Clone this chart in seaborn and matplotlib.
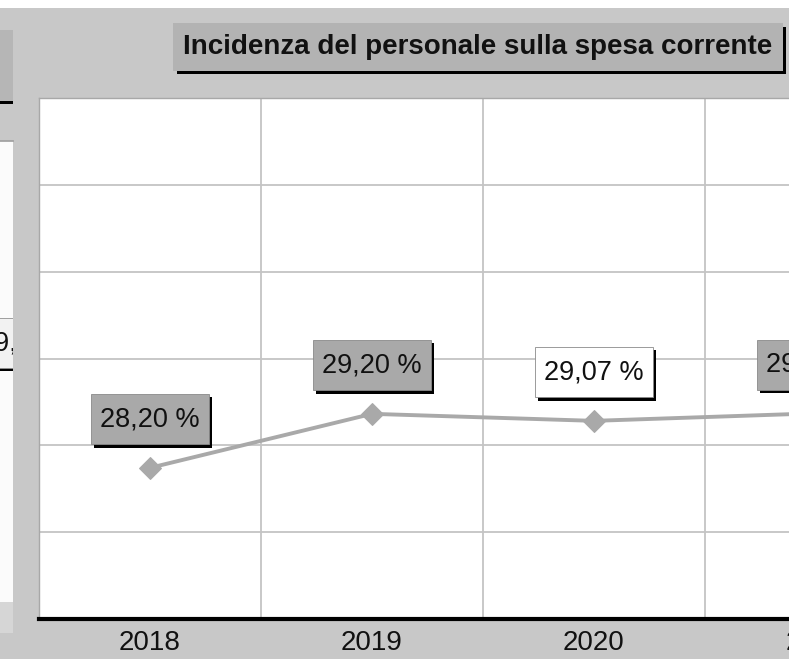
import matplotlib
matplotlib.use("Agg")
import matplotlib.pyplot as plt
import matplotlib.patheffects as pe
from matplotlib.patches import Rectangle
from matplotlib.path import Path
import numpy as np
import pandas as pd
import seaborn as sns

# ---- data -------------------------------------------------------------
years = ["2018", "2019", "2020", "2021"]
incidenza = [28.20, 29.20, 29.07, 29.21]
label_faces = ["#a9a9a9", "#a9a9a9", "#ffffff", "#a9a9a9"]
title = "Incidenza del personale sulla spesa corrente"

# ---- figure setup -----------------------------------------------------
W, H = 789, 659
BG = "#c8c8c8"
LINE_GREY = "#a9a9a9"
GRID_GREY = "#c4c4c4"

sns.set_theme(style="white")
plt.rcParams["font.family"] = ["Liberation Sans", "DejaVu Sans"]

fig = plt.figure(figsize=(W / 100, H / 100), dpi=100, facecolor=BG)


def frac(x, y, w, h):
    """Pixel box measured from the top-left corner -> figure fractions."""
    return [x / W, 1 - (y + h) / H, w / W, h / H]


def rect(x, y, w, h, **kw):
    l, b, ww, hh = frac(x, y, w, h)
    fig.add_artist(Rectangle((l, b), ww, hh, transform=fig.transFigure,
                             lw=0, **kw))


def box_style(padx, pady):
    """Square label box with separate horizontal / vertical padding."""
    def _box(x0, y0, width, height, mutation_size):
        px, py = padx * mutation_size, pady * mutation_size
        x0, y0 = x0 - px, y0 - py
        x1, y1 = x0 + width + 2 * px, y0 + height + 2 * py
        return Path([(x0, y0), (x1, y0), (x1, y1), (x0, y1), (x0, y0)],
                     closed=True)
    return _box


label_box = box_style(0.33, 0.45)
title_box = box_style(0.36, 0.38)

shadow = [pe.SimplePatchShadow(offset=(2.3, -2.3), shadow_rgbFace="black",
                               alpha=1.0), pe.Normal()]

# white band along the top edge
rect(0, 0, W, 8, fc="white")

# neighbouring panel on the left edge
rect(0, 30, 13, 71, fc="#b6b6b6")
rect(0, 101, 13, 3, fc="black")
rect(0, 602, 13, 31, fc="#d6d6d6")
side = fig.add_axes(frac(0, 141, 13, 461))
side.set_facecolor("#fbfbfb")
side.set_xlim(0, 13)
side.set_ylim(602, 141)
side.set_xticks([])
side.set_yticks([])
for s in side.spines.values():
    s.set_visible(False)
side.spines["top"].set_visible(True)
side.spines["top"].set_color("#a0a0a0")
side_lbl = side.text(-20, 343, "29,", ha="left", va="center", fontsize=19.5,
                     color="#111111", clip_on=True,
                     bbox=dict(boxstyle=label_box, fc="#f2f2f2",
                               ec="#909090", lw=0.6))
side_lbl.get_bbox_patch().set_path_effects(shadow)

# ---- main chart -------------------------------------------------------
ax = fig.add_axes(frac(39, 98, 888, 521))
ax.set_facecolor("white")

df = pd.DataFrame({"anno": years, "valore": incidenza})
sns.lineplot(data=df, x="anno", y="valore", ax=ax, sort=False,
             color=LINE_GREY, lw=2.8, marker="D", markersize=11.5,
             markeredgecolor=LINE_GREY, zorder=3)

ymin, ymax = 25.4, 35.05
ax.set_xlim(-0.5, 3.5)
ax.set_ylim(ymin, ymax)
ax.set_yticks(np.linspace(ymin, ymax, 7))
ax.set_yticklabels([])
ax.set_xticks(range(len(years)))
ax.set_xticklabels(years, fontsize=20, color="#111111")
ax.set_xticks(np.arange(0.5, len(years) - 0.5, 1.0), minor=True)
ax.tick_params(axis="both", which="both", length=0)
ax.tick_params(axis="x", pad=8)
ax.set_xlabel("")
ax.set_ylabel("")

ax.set_axisbelow(True)
ax.grid(False)
ax.grid(which="major", axis="y", color=GRID_GREY, lw=1.3)
ax.grid(which="minor", axis="x", color=GRID_GREY, lw=1.3)

ax.spines["right"].set_visible(False)
for side_name in ("left", "top"):
    ax.spines[side_name].set_color("#a8a8a8")
    ax.spines[side_name].set_linewidth(1.0)
ax.spines["bottom"].set_color("black")
ax.spines["bottom"].set_linewidth(3.0)

# value labels above each point
for i, (v, fc) in enumerate(zip(incidenza, label_faces)):
    txt = f"{v:.2f} %".replace(".", ",")
    t = ax.annotate(txt, xy=(i, v), xytext=(0, 35),
                    textcoords="offset points", ha="center", va="center",
                    fontsize=19.5, color="#111111", annotation_clip=False,
                    bbox=dict(boxstyle=label_box, fc=fc,
                              ec="#8a8a8a", lw=0.6))
    t.get_bbox_patch().set_path_effects(shadow)

# boxed title
tt = fig.text(478 / W, 1 - 47 / H, title, ha="center", va="center",
              fontsize=20, fontweight="bold", color="#111111",
              bbox=dict(boxstyle=title_box, fc="#b3b3b3", ec="none"))
tt.get_bbox_patch().set_path_effects(shadow)

fig.savefig("out.png", dpi=100, facecolor=BG)
